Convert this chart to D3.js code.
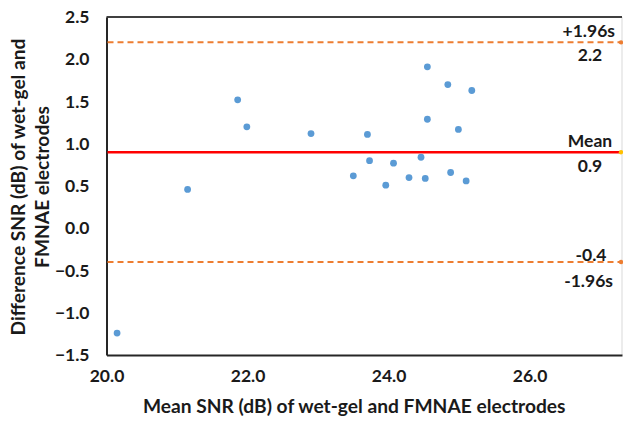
<!DOCTYPE html>
<html>
  <head>
    <title>bland-altman</title>
    <meta http-equiv="Content-Type" content="text/html; charset=UTF-8">
    <script src="https://d3js.org/d3.v7.min.js"></script>
    <style>
      body { margin: 0; background: #fff; }
      text { font-family: Lato, "Open Sans", sans-serif; font-weight: bold; fill: #1a1a1a; }
    </style>
  </head>

  <body>

    <div id="chart">
    </div>

    <script>
      // mean of the two electrodes (x) and their difference (y)
      var meanSNR = [20.15, 21.15, 21.86, 21.99, 22.90, 23.50, 23.70, 23.73, 23.96, 24.07,
                     24.29, 24.46, 24.52, 24.55, 24.55, 24.84, 24.88, 24.99, 25.10, 25.18];
      var diffSNR = [-1.24, 0.46, 1.52, 1.20, 1.12, 0.62, 1.11, 0.80, 0.51, 0.77,
                     0.60, 0.84, 0.59, 1.91, 1.29, 1.70, 0.66, 1.17, 0.56, 1.63];

      var limitNames = ["+1.96s", "Mean", "-1.96s"];
      var limitValues = [2.2, 0.9, -0.4];
      var limitLabels = ["2.2", "0.9", "-0.4"];

      var xTicks = [20, 22, 24, 26];
      var yTicks = [-1.5, -1.0, -0.5, 0.0, 0.5, 1.0, 1.5, 2.0, 2.5];

      var width = 623, height = 424;
      var pLeft = 106.5, pRight = 622, pTop = 17, pBottom = 355;

      var svg = d3.select("#chart").append("svg")
        .attr("width", width).attr("height", height);

      var x = d3.scaleLinear().domain([20, 27.31]).range([pLeft, pRight]);
      var y = d3.scaleLinear().domain([-1.5, 2.5]).range([pBottom, pTop]);

      // frame: dark top/left/bottom, faint right edge
      svg.append("line").attr("x1", pRight).attr("x2", pRight).attr("y1", pTop).attr("y2", pBottom)
        .attr("stroke", "#d9d9d9").attr("stroke-width", 1);
      svg.append("line").attr("x1", pLeft).attr("x2", pRight).attr("y1", pTop).attr("y2", pTop)
        .attr("stroke", "#404040").attr("stroke-width", 2);

      // x axis
      var xAxis = svg.append("g")
        .attr("transform", "translate(0," + pBottom + ")")
        .call(d3.axisBottom(x).tickValues(xTicks).tickFormat(d3.format(".1f")).tickSize(0).tickPadding(15));
      xAxis.select(".domain").attr("stroke", "#262626").attr("stroke-width", 2);
      xAxis.selectAll("text").attr("font-size", 17.5).attr("fill", "#1a1a1a")
        .style("font-family", "Lato, sans-serif").style("font-weight", "bold");

      // y axis
      var yAxis = svg.append("g")
        .attr("transform", "translate(" + pLeft + ",0)")
        .call(d3.axisLeft(y).tickValues(yTicks).tickFormat(d3.format(".1f")).tickSize(0).tickPadding(17));
      yAxis.select(".domain").attr("stroke", "#262626").attr("stroke-width", 2);
      yAxis.selectAll("text").attr("font-size", 17.5).attr("fill", "#1a1a1a")
        .style("font-family", "Lato, sans-serif").style("font-weight", "bold");

      // limits of agreement and mean
      limitValues.forEach(function (v, i) {
        var isMean = limitNames[i] == "Mean";
        svg.append("line")
          .attr("x1", pLeft + 1).attr("x2", pRight)
          .attr("y1", y(v)).attr("y2", y(v))
          .attr("stroke", isMean ? "#ff0000" : "#ed7d31")
          .attr("stroke-width", isMean ? 2.5 : 2)
          .attr("stroke-dasharray", isMean ? null : "6,4");
        svg.append("circle")
          .attr("cx", pRight - 1).attr("cy", y(v)).attr("r", 2.2)
          .attr("fill", isMean ? "#ffc000" : "#ed7d31");
      });

      // labels next to the lines
      var ann = svg.append("g").attr("font-size", 17.5);
      ann.append("text").attr("x", 615).attr("y", y(2.2) - 5).attr("text-anchor", "end").text(limitNames[0]);
      ann.append("text").attr("x", 590).attr("y", y(2.2) + 19).attr("text-anchor", "middle").text(limitLabels[0]);
      ann.append("text").attr("x", 590).attr("y", y(0.9) - 5).attr("text-anchor", "middle").text(limitNames[1]);
      ann.append("text").attr("x", 590).attr("y", y(0.9) + 20).attr("text-anchor", "middle").text(limitLabels[1]);
      ann.append("text").attr("x", 591).attr("y", y(-0.4) - 1).attr("text-anchor", "middle").text(limitLabels[2]);
      ann.append("text").attr("x", 613).attr("y", y(-0.4) + 25).attr("text-anchor", "end").text(limitNames[2]);

      // points
      svg.append("g").selectAll("circle")
        .data(meanSNR)
        .enter().append("circle")
        .attr("cx", function (d) { return x(d); })
        .attr("cy", function (d, i) { return y(diffSNR[i]); })
        .attr("r", 3.4)
        .attr("fill", "#5b9bd5");

      // axis titles
      svg.append("text")
        .attr("x", (pLeft + 600) / 2 + 1).attr("y", 413)
        .attr("text-anchor", "middle").attr("font-size", 19.2)
        .text("Mean SNR (dB) of wet-gel and FMNAE electrodes");

      var yTitle = svg.append("text")
        .attr("transform", "translate(0," + ((pTop + pBottom) / 2 + 1) + ") rotate(-90)")
        .attr("text-anchor", "middle").attr("font-size", 19.2);
      yTitle.append("tspan").attr("x", 0).attr("y", 25).text("Difference SNR (dB) of wet-gel and");
      yTitle.append("tspan").attr("x", 0).attr("y", 49).text("FMNAE electrodes");
    </script>
  </body>
</html>
